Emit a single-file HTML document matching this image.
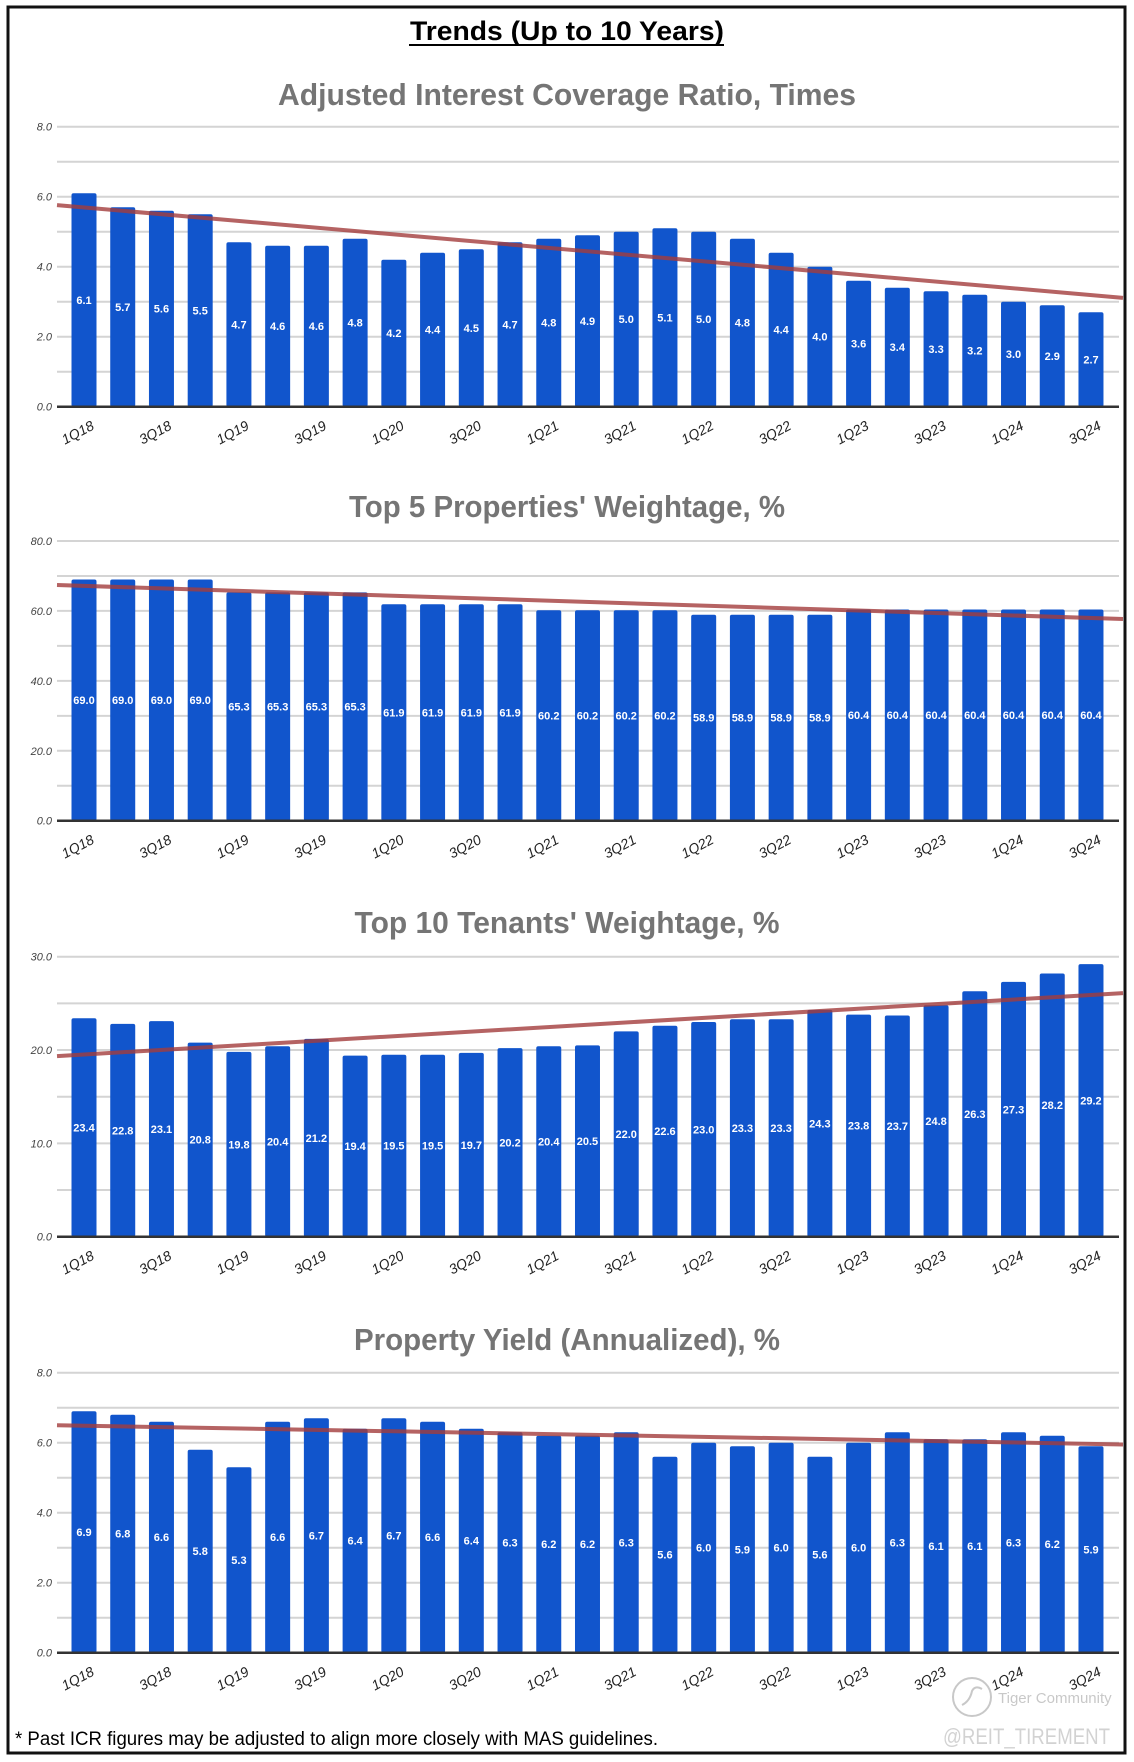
<!DOCTYPE html>
<html><head><meta charset="utf-8">
<style>
html,body{margin:0;padding:0;background:#fff;}
svg{display:block;}
</style></head>
<body>
<svg id="root" width="1134" height="1762" viewBox="0 0 1134 1762" xmlns="http://www.w3.org/2000/svg">
<rect x="8" y="7" width="1117" height="1746" fill="#fff" stroke="#111" stroke-width="3"/>
<text x="567" y="40" text-anchor="middle" font-family="Liberation Sans Narrow, Liberation Sans, sans-serif" font-weight="bold" font-size="27" textLength="314" lengthAdjust="spacingAndGlyphs" fill="#000">Trends (Up to 10 Years)</text>
<line x1="409" y1="45" x2="724" y2="45" stroke="#000" stroke-width="2"/>
<g id="charts"></g>
<text x="15" y="1745" font-family="Liberation Sans Narrow, Liberation Sans, sans-serif" font-size="19" textLength="643" lengthAdjust="spacingAndGlyphs" fill="#000">* Past ICR figures may be adjusted to align more closely with MAS guidelines.</text>
<g opacity="0.8">
<circle cx="972" cy="1697" r="19" fill="none" stroke="#bbb" stroke-width="2"/>
<path d="M962 1705 q8 -4 10 -14 q3 -6 10 -2" fill="none" stroke="#bbb" stroke-width="2"/>
<text x="998" y="1703" font-family="Liberation Sans, sans-serif" font-size="15" fill="#bbb">Tiger Community</text>
<text x="943" y="1744" font-family="Liberation Sans, sans-serif" font-size="22" textLength="167" lengthAdjust="spacingAndGlyphs" fill="#c8c8c8">@REIT_TIREMENT</text>
</g>
</svg>
<script>
const categories = ["1Q18","2Q18","3Q18","4Q18","1Q19","2Q19","3Q19","4Q19","1Q20","2Q20","3Q20","4Q20","1Q21","2Q21","3Q21","4Q21","1Q22","2Q22","3Q22","4Q22","1Q23","2Q23","3Q23","4Q23","1Q24","2Q24","3Q24"];
const icrValues = [6.1,5.7,5.6,5.5,4.7,4.6,4.6,4.8,4.2,4.4,4.5,4.7,4.8,4.9,5.0,5.1,5.0,4.8,4.4,4.0,3.6,3.4,3.3,3.2,3.0,2.9,2.7];
const top5Values = [69.0,69.0,69.0,69.0,65.3,65.3,65.3,65.3,61.9,61.9,61.9,61.9,60.2,60.2,60.2,60.2,58.9,58.9,58.9,58.9,60.4,60.4,60.4,60.4,60.4,60.4,60.4];
const tenantValues = [23.4,22.8,23.1,20.8,19.8,20.4,21.2,19.4,19.5,19.5,19.7,20.2,20.4,20.5,22.0,22.6,23.0,23.3,23.3,24.3,23.8,23.7,24.8,26.3,27.3,28.2,29.2];
const yieldValues = [6.9,6.8,6.6,5.8,5.3,6.6,6.7,6.4,6.7,6.6,6.4,6.3,6.2,6.2,6.3,5.6,6.0,5.9,6.0,5.6,6.0,6.3,6.1,6.1,6.3,6.2,5.9];
const icrTicks = ["0.0","2.0","4.0","6.0","8.0"];
const top5Ticks = ["0.0","20.0","40.0","60.0","80.0"];
const tenantTicks = ["0.0","10.0","20.0","30.0"];
const yieldTicks = ["0.0","2.0","4.0","6.0","8.0"];
const icrTrend = [5.76, 3.11];
const top5Trend = [67.4, 57.7];
const tenantTrend = [19.35, 26.1];
const yieldTrend = [6.5, 5.95];

const NS = "http://www.w3.org/2000/svg";
const root = document.getElementById("charts");
function mk(tag, attrs, parent){const e=document.createElementNS(NS,tag);for(const k in attrs)e.setAttribute(k,attrs[k]);parent.appendChild(e);return e;}

const specs = [
 {name:"icr", title:"Adjusted Interest Coverage Ratio, Times", titleY:105, titleW:578, top:126.7, bottom:406.7, max:8, minorStep:1, ticks:icrTicks, values:icrValues, trend:icrTrend},
 {name:"top5", title:"Top 5 Properties' Weightage, %", titleY:517, titleW:436, top:541, bottom:820.7, max:80, minorStep:10, ticks:top5Ticks, values:top5Values, trend:top5Trend},
 {name:"tenants", title:"Top 10 Tenants' Weightage, %", titleY:933, titleW:425, top:956.7, bottom:1236.7, max:30, minorStep:5, ticks:tenantTicks, values:tenantValues, trend:tenantTrend},
 {name:"yield", title:"Property Yield (Annualized), %", titleY:1350, titleW:426, top:1372.7, bottom:1652.7, max:8, minorStep:1, ticks:yieldTicks, values:yieldValues, trend:yieldTrend}
];
const plotL = 57, plotR = 1119, firstX = 84, stepX = 38.73, barW = 25;

specs.forEach(s=>{
 const g = mk("g",{},root);
 
 
 const y = v => s.bottom - v/s.max*(s.bottom-s.top);
 const x = i => firstX + i*stepX;
 const t = mk("text",{x:567,y:s.titleY,"text-anchor":"middle","font-family":"Liberation Sans Narrow, Liberation Sans, sans-serif","font-weight":"bold","font-size":"31",fill:"#757575",textLength:s.titleW,lengthAdjust:"spacingAndGlyphs"},g);
 t.textContent = s.title;
 
 
 for(let v=0; v<=s.max+1e-9; v+=s.minorStep){
  const gl = mk("line",{x1:plotL,x2:plotR,y1:y(v),y2:y(v),stroke:"#d4d4d4","stroke-width":2},g);
  
  
 }
 s.ticks.forEach(lbl=>{
  const tx = mk("text",{x:52,y:y(parseFloat(lbl))+4,"text-anchor":"end","font-family":"Liberation Sans, sans-serif","font-style":"italic","font-size":"11",fill:"#444"},g);
  tx.textContent = lbl;
  
  
 });
 s.values.forEach((v,i)=>{
  const b = mk("rect",{x:x(i)-barW/2,y:y(v),width:barW,height:s.bottom-y(v),fill:"#1155cc",rx:2},g);
  
  
 });
 const ax = mk("line",{x1:plotL,x2:plotR,y1:s.bottom,y2:s.bottom,stroke:"#333","stroke-width":2.5},g);
 
 
 const tl = mk("line",{x1:plotL,x2:plotR+4,y1:y(s.trend[0]),y2:y(s.trend[1]),stroke:"#a33c3c","stroke-width":4,"stroke-opacity":0.8},g);
 
 
 s.values.forEach((v,i)=>{
  const lb = mk("text",{x:x(i),y:(y(v)+s.bottom)/2+4,"text-anchor":"middle","font-family":"Liberation Sans, sans-serif","font-weight":"bold","font-size":"11",fill:"#fff"},g);
  lb.textContent = v.toFixed(1);
  
  
 });
 categories.forEach((c,i)=>{
  if(i%2) return;
  const xl = mk("text",{x:0,y:0,"text-anchor":"middle","font-family":"Liberation Sans, sans-serif","font-style":"italic","font-size":"14",fill:"#222",transform:`translate(${x(i)-4},${s.bottom+30}) rotate(-28)`},g);
  xl.textContent = c;
  
  
 });
});
</script>
</body></html>
